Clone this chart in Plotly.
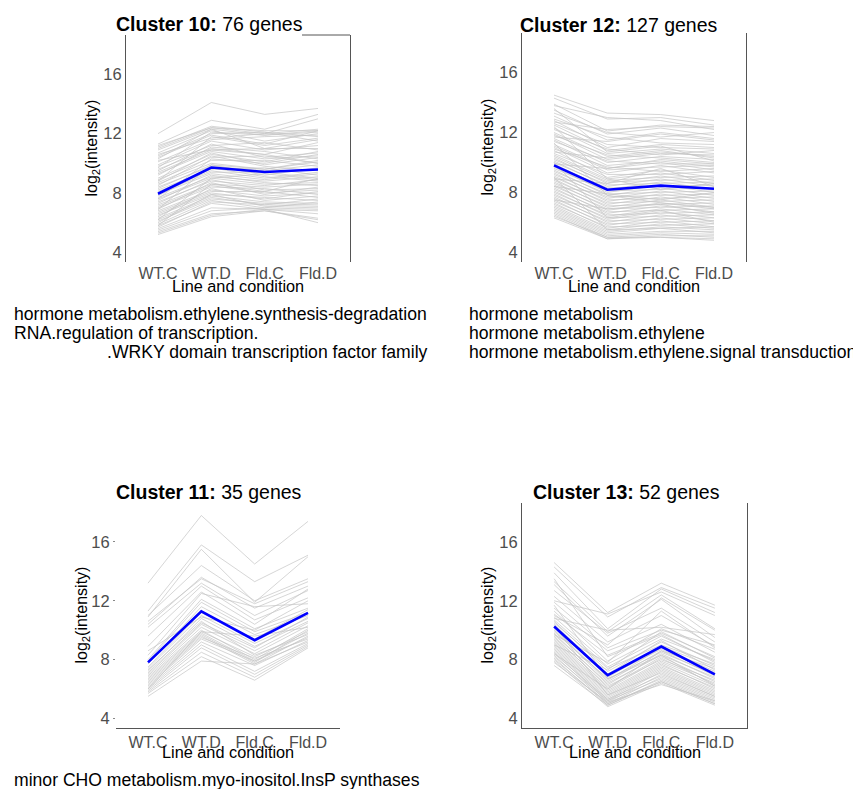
import plotly.graph_objects as go

# ---------------- data ----------------
conditions = ["WT.C", "WT.D", "Fld.C", "Fld.D"]
y_tick_values = [4, 8, 12, 16]

cluster10_title = "<b>Cluster 10:</b> 76 genes"
cluster10_genes = [
    [12.0, 14.1, 13.3, 13.7], [11.3, 12.9, 12.3, 13.3], [11.2, 12.4, 12.0, 13.0],
    [11.0, 12.4, 12.2, 12.2], [10.9, 12.3, 11.9, 12.1], [10.7, 12.2, 11.5, 12.0],
    [10.5, 12.0, 12.1, 11.8], [10.4, 11.9, 11.3, 12.2], [10.3, 12.3, 11.0, 11.6],
    [10.1, 11.6, 11.8, 11.9], [9.9, 11.5, 10.9, 11.2], [9.8, 11.2, 11.4, 10.9],
    [9.6, 11.0, 10.6, 11.4], [9.5, 11.3, 10.4, 10.7], [9.4, 10.9, 11.0, 11.0],
    [9.3, 10.8, 10.3, 10.5], [9.2, 11.1, 10.8, 10.3], [9.0, 10.6, 10.1, 10.8],
    [8.9, 10.4, 10.5, 10.0], [8.8, 10.7, 9.9, 10.4], [8.7, 10.2, 10.2, 9.8],
    [8.6, 10.0, 9.6, 10.1], [8.5, 10.5, 9.8, 9.5], [8.4, 9.8, 9.5, 9.9],
    [8.3, 9.9, 9.2, 9.7], [8.2, 9.6, 9.7, 9.2], [8.1, 9.5, 9.0, 9.4],
    [8.0, 9.4, 9.4, 9.0], [7.9, 9.3, 8.9, 9.3], [7.8, 9.7, 9.1, 8.8],
    [7.7, 9.1, 8.8, 9.1], [7.6, 9.0, 8.6, 8.7], [7.5, 9.2, 8.7, 8.5],
    [7.4, 8.8, 8.5, 8.9], [7.3, 8.9, 8.2, 8.3], [7.2, 8.6, 8.4, 8.6],
    [7.1, 8.5, 8.0, 8.2], [7.0, 8.4, 8.3, 7.9], [6.9, 8.7, 7.9, 8.4],
    [6.8, 8.2, 7.8, 8.0], [6.7, 8.1, 8.1, 7.7], [6.6, 8.0, 7.6, 8.1],
    [6.5, 7.9, 7.7, 7.5], [6.4, 8.3, 7.5, 7.8], [6.3, 7.8, 7.4, 7.3],
    [6.2, 7.7, 7.2, 7.6], [6.1, 7.6, 7.3, 7.2], [6.0, 7.9, 7.1, 7.0],
    [5.9, 7.5, 7.0, 7.4], [5.8, 7.3, 6.9, 6.8], [5.7, 7.4, 7.2, 7.1],
    [5.6, 7.0, 6.9, 6.6], [5.5, 6.8, 7.0, 6.9], [5.4, 6.6, 6.8, 6.3],
    [5.3, 6.5, 6.9, 6.0], [5.2, 6.4, 6.8, 6.2], [10.6, 11.7, 12.0, 12.3],
    [9.7, 12.1, 11.9, 12.2], [8.8, 11.8, 11.2, 11.7], [7.6, 10.3, 10.0, 10.6],
    [6.9, 9.9, 9.6, 10.2], [6.2, 9.0, 9.3, 8.9], [5.8, 8.6, 8.1, 9.0],
    [11.1, 12.5, 12.1, 11.5], [10.2, 10.9, 10.6, 10.0],
]
cluster10_mean = [7.95, 9.72, 9.42, 9.58]

cluster12_title = "<b>Cluster 12:</b> 127 genes"
cluster12_genes = [
    [14.5, 13.3, 13.2, 12.8], [14.3, 12.9, 13.0, 12.5], [13.9, 12.1, 12.5, 12.4],
    [13.8, 13.0, 12.8, 12.2], [13.5, 11.9, 12.3, 11.8], [13.3, 12.0, 11.7, 12.0],
    [13.1, 11.5, 12.0, 11.6], [12.9, 11.7, 11.3, 11.2], [12.8, 11.0, 11.6, 11.4],
    [12.6, 11.2, 11.0, 10.9], [12.5, 10.8, 11.2, 11.0], [12.3, 10.6, 10.9, 10.6],
    [12.2, 10.9, 10.5, 10.8], [12.0, 10.4, 10.8, 10.3], [11.9, 10.2, 10.6, 10.5],
    [11.8, 10.5, 10.3, 10.0], [11.6, 10.0, 10.4, 10.2], [11.5, 9.8, 10.1, 9.7],
    [11.4, 10.1, 9.9, 9.9], [11.2, 9.6, 10.0, 9.5], [11.1, 9.5, 9.7, 9.8],
    [11.0, 9.3, 9.8, 9.3], [10.9, 9.7, 9.4, 9.6], [10.8, 9.0, 9.5, 9.0],
    [10.6, 9.2, 9.2, 9.4], [10.5, 8.9, 9.3, 8.8], [10.4, 8.8, 9.0, 9.1],
    [10.3, 8.6, 9.1, 8.6], [10.2, 8.7, 8.8, 8.9], [10.1, 8.4, 8.9, 8.4],
    [10.0, 8.5, 8.6, 8.7], [9.9, 8.2, 8.7, 8.2], [9.8, 8.3, 8.4, 8.5],
    [9.7, 8.0, 8.5, 8.0], [9.6, 8.1, 8.2, 8.3], [9.5, 7.8, 8.3, 7.8],
    [9.4, 7.9, 8.0, 8.1], [9.3, 7.6, 8.1, 7.6], [9.2, 7.7, 7.8, 7.9],
    [9.1, 7.4, 7.9, 7.4], [9.0, 7.5, 7.6, 7.7], [8.9, 7.2, 7.7, 7.2],
    [8.8, 7.3, 7.4, 7.5], [8.7, 7.0, 7.5, 7.0], [8.6, 7.1, 7.2, 7.3],
    [8.5, 6.8, 7.3, 6.9], [8.4, 6.9, 7.0, 7.1], [8.3, 6.6, 7.1, 6.7],
    [8.2, 6.7, 6.8, 6.9], [8.1, 6.4, 6.9, 6.5], [8.0, 6.5, 6.6, 6.7],
    [7.9, 6.2, 6.7, 6.3], [7.8, 6.3, 6.4, 6.5], [7.7, 6.0, 6.5, 6.1],
    [7.6, 6.1, 6.2, 6.3], [7.5, 5.8, 6.3, 5.9], [7.4, 5.9, 6.0, 6.1],
    [7.3, 5.6, 6.1, 5.7], [7.2, 5.7, 5.8, 5.9], [7.1, 5.5, 5.9, 5.6],
    [7.0, 5.4, 5.7, 5.5], [6.9, 5.3, 5.6, 5.3], [6.8, 5.2, 5.4, 5.4],
    [6.7, 5.1, 5.3, 5.2], [6.6, 5.0, 5.2, 5.0], [6.5, 4.9, 5.1, 5.1],
    [6.4, 5.0, 5.0, 4.9], [6.3, 4.9, 5.0, 4.8], [12.7, 12.2, 12.4, 12.3],
    [11.7, 11.4, 11.9, 11.5], [10.7, 10.3, 10.7, 10.4], [9.9, 9.6, 10.2, 9.9],
    [8.9, 8.6, 9.6, 8.4], [11.3, 7.8, 7.3, 7.0], [10.0, 6.3, 6.8, 6.0],
    [9.0, 5.5, 5.6, 5.7], [12.4, 8.9, 8.2, 8.6], [8.4, 7.9, 7.5, 8.0],
    [7.5, 6.9, 7.2, 6.6], [13.6, 10.7, 11.1, 10.1],
]
cluster12_mean = [9.81, 8.18, 8.45, 8.24]

cluster11_title = "<b>Cluster 11:</b> 35 genes"
cluster11_genes = [
    [13.2, 17.8, 14.5, 17.4], [11.3, 15.8, 13.3, 15.1], [10.9, 15.5, 11.9, 15.0],
    [11.0, 14.4, 12.0, 13.5], [10.6, 13.5, 11.8, 13.3], [10.4, 13.6, 11.5, 13.0],
    [10.2, 13.2, 11.0, 12.7], [9.6, 13.0, 10.7, 12.2], [8.9, 12.6, 10.4, 12.8],
    [8.3, 12.5, 11.6, 11.8], [8.0, 12.1, 10.1, 11.5], [7.9, 11.9, 9.9, 11.2],
    [7.7, 11.6, 9.7, 11.0], [7.5, 11.2, 9.4, 11.4], [7.4, 11.0, 9.1, 10.8],
    [7.2, 10.8, 8.9, 10.6], [7.1, 10.5, 8.8, 10.9], [7.0, 10.4, 8.6, 10.5],
    [6.9, 10.2, 8.4, 10.3], [6.8, 10.0, 8.0, 10.1], [6.7, 9.9, 8.2, 9.9],
    [6.6, 9.8, 7.9, 9.8], [6.5, 9.7, 7.8, 10.0], [6.4, 9.6, 7.7, 9.6],
    [6.3, 9.5, 8.1, 9.4], [6.2, 9.4, 7.9, 9.5], [6.1, 9.2, 7.6, 9.3],
    [6.0, 9.0, 7.2, 9.1], [5.9, 8.8, 7.0, 9.0], [5.8, 8.5, 6.8, 8.9],
    [5.7, 8.2, 6.6, 8.8], [5.5, 7.9, 7.7, 9.2], [8.6, 10.9, 10.0, 12.0],
    [6.0, 9.9, 9.6, 10.2], [7.3, 10.6, 8.3, 9.7],
]
cluster11_mean = [7.81, 11.29, 9.32, 11.18]

cluster13_title = "<b>Cluster 13:</b> 52 genes"
cluster13_genes = [
    [14.6, 11.2, 13.2, 11.7], [14.3, 10.9, 12.9, 11.5], [13.9, 10.1, 12.8, 11.2],
    [13.3, 9.9, 12.4, 10.1], [13.1, 9.6, 12.1, 9.5], [12.7, 9.8, 11.5, 9.2],
    [12.3, 9.2, 11.0, 8.9], [11.9, 8.8, 10.4, 8.5], [11.5, 8.6, 10.0, 9.0],
    [11.3, 7.9, 10.1, 8.7], [11.1, 8.3, 9.8, 8.2], [10.9, 7.7, 9.6, 7.9],
    [10.7, 7.5, 9.4, 8.0], [10.6, 7.2, 9.2, 7.6], [10.5, 7.4, 9.0, 7.7],
    [10.4, 7.0, 9.3, 7.3], [10.3, 6.8, 8.9, 7.5], [10.2, 6.9, 8.7, 7.1],
    [10.1, 6.6, 8.8, 7.2], [10.0, 6.5, 8.6, 6.9], [9.9, 6.7, 8.5, 7.0],
    [9.8, 6.3, 8.4, 6.7], [9.7, 6.4, 8.3, 6.8], [9.6, 6.1, 8.2, 6.5],
    [9.5, 6.2, 8.0, 6.6], [9.4, 6.0, 8.1, 6.3], [9.3, 5.9, 7.9, 6.4],
    [9.2, 5.8, 7.8, 6.2], [9.1, 5.7, 7.7, 6.0], [9.0, 5.6, 7.6, 6.1],
    [8.9, 5.5, 7.5, 5.9], [8.8, 5.4, 7.4, 5.8], [8.7, 5.3, 7.3, 5.7],
    [8.6, 5.2, 7.2, 5.6], [8.5, 5.1, 7.0, 5.5], [8.4, 5.3, 6.9, 5.4],
    [8.3, 5.0, 6.8, 5.3], [8.2, 5.2, 6.7, 5.2], [8.1, 4.9, 6.6, 5.1],
    [8.0, 5.0, 6.5, 5.0], [7.9, 4.8, 6.4, 4.9], [7.8, 5.1, 6.3, 5.2],
    [7.6, 4.9, 6.5, 5.0], [12.0, 11.1, 12.6, 11.0], [11.0, 9.0, 12.2, 10.0],
    [10.8, 10.0, 10.2, 9.7], [9.7, 7.8, 11.3, 8.8], [13.5, 8.2, 9.7, 7.8],
    [9.0, 7.3, 9.9, 8.1], [8.4, 6.0, 8.6, 7.4], [10.3, 5.6, 7.1, 5.5],
    [11.7, 6.7, 8.3, 6.2],
]
cluster13_mean = [10.25, 6.94, 8.89, 6.99]

left_terms = [
    "hormone metabolism.ethylene.synthesis-degradation",
    "RNA.regulation of transcription.",
    ".WRKY domain transcription factor family",
]
right_terms = [
    "hormone metabolism",
    "hormone metabolism.ethylene",
    "hormone metabolism.ethylene.signal transduction",
]
bottom_terms = ["minor CHO metabolism.myo-inositol.InsP synthases"]

y_axis_title = "log<sub>2</sub>(intensity)"
x_axis_title = "Line and condition"

# ---------------- layout helpers ----------------
# The page body has an 8px default margin, so the figure is drawn 8px in
# from the window's top-left; target window pixels are converted accordingly.
OFF = 8
W, H = 861 - OFF, 789 - OFF
FONT = "Liberation Sans, Arial, Helvetica, sans-serif"


def fx(p):
    return (p - OFF) / W


def fy(p):
    return 1 - (p - OFF) / H


panels = [
    dict(genes=cluster10_genes, mean=cluster10_mean, title=cluster10_title, ax="",
         box=(126, 350, 35, 262), title_xy=(209, 24), ytitle_x=92,
         ylines=True, xline=False, ticks=False),
    dict(genes=cluster12_genes, mean=cluster12_mean, title=cluster12_title, ax="2",
         box=(522, 746, 33, 262), title_xy=(619, 25), ytitle_x=488,
         ylines=True, xline=False, ticks=False),
    dict(genes=cluster11_genes, mean=cluster11_mean, title=cluster11_title, ax="3",
         box=(116, 340, 503, 728), title_xy=(209, 492), ytitle_x=82,
         ylines=False, xline=True, ticks=True),
    dict(genes=cluster13_genes, mean=cluster13_mean, title=cluster13_title, ax="4",
         box=(522, 747, 503, 728), title_xy=(626, 492), ytitle_x=488,
         ylines=True, xline=True, ticks=False),
]

fig = go.Figure()
annotations = []
axis_line_color = "#555555"
tick_font = dict(family=FONT, size=16, color="#4d4d4d")

for p in panels:
    xs, ys = [], []
    for g in p["genes"]:
        xs += list(range(len(conditions))) + [None]
        ys += list(g) + [None]
    xa = "x" + p["ax"]
    ya = "y" + p["ax"]
    fig.add_trace(go.Scatter(x=xs, y=ys, mode="lines", xaxis=xa, yaxis=ya,
                             line=dict(color="#c4c4c4", width=0.7),
                             hoverinfo="skip", showlegend=False))
    fig.add_trace(go.Scatter(x=list(range(len(conditions))), y=p["mean"], mode="lines",
                             xaxis=xa, yaxis=ya,
                             line=dict(color="#0000ff", width=2.6),
                             hoverinfo="skip", showlegend=False))
    x0, x1, t, b = p["box"]
    xk = "xaxis" + p["ax"]
    yk = "yaxis" + p["ax"]
    fig.layout[xk] = dict(
        domain=[fx(x0), fx(x1)], range=[-0.6, 3.6], anchor=ya,
        tickvals=list(range(len(conditions))), ticktext=conditions,
        showgrid=False, zeroline=False, ticks="", tickfont=tick_font,
        showline=p["xline"], linecolor=axis_line_color, linewidth=1,
    )
    fig.layout[yk] = dict(
        domain=[fy(b), fy(t)], range=[3.35, 18.65], anchor=xa,
        tickvals=y_tick_values, showgrid=False, zeroline=False,
        ticks="outside" if p["ticks"] else "", ticklen=2 if p["ticks"] else 0,
        tickcolor="#888888", tickwidth=1,
        tickfont=dict(family=FONT, size=16.5, color="#4d4d4d"),
        showline=p["ylines"], mirror=p["ylines"], linecolor=axis_line_color, linewidth=1,
    )
    tx, ty = p["title_xy"]
    annotations.append(dict(x=fx(tx), y=fy(ty), xref="paper", yref="paper",
                            text=p["title"], showarrow=False, xanchor="center", yanchor="middle",
                            font=dict(family=FONT, size=19.5, color="#000000")))
    annotations.append(dict(x=fx(p["ytitle_x"]), y=fy((t + b) / 2), xref="paper", yref="paper",
                            text=y_axis_title, showarrow=False, textangle=-90,
                            xanchor="center", yanchor="middle",
                            font=dict(family=FONT, size=16, color="#000000")))
    annotations.append(dict(x=fx((x0 + x1) / 2), y=fy(b + 24), xref="paper", yref="paper",
                            text=x_axis_title, showarrow=False, xanchor="center", yanchor="middle",
                            font=dict(family=FONT, size=16.3, color="#000000")))

# partial top border of cluster 10 panel (beside its title)
fig.add_shape(type="line", xref="paper", yref="paper",
              x0=fx(302), x1=fx(350), y0=fy(35), y1=fy(35),
              line=dict(color=axis_line_color, width=1))

term_font = dict(family=FONT, size=17.6, color="#000000")
line_y = [314, 333, 352]
for i, txt in enumerate(left_terms):
    if txt.startswith("."):
        annotations.append(dict(x=fx(430), y=fy(line_y[i]), xref="paper", yref="paper",
                                text=txt, showarrow=False, xanchor="right", yanchor="middle",
                                font=term_font))
    else:
        annotations.append(dict(x=fx(12), y=fy(line_y[i]), xref="paper", yref="paper",
                                text=txt, showarrow=False, xanchor="left", yanchor="middle",
                                font=term_font))
for i, txt in enumerate(right_terms):
    annotations.append(dict(x=fx(467), y=fy(line_y[i]), xref="paper", yref="paper",
                            text=txt, showarrow=False, xanchor="left", yanchor="middle",
                            font=term_font))
for i, txt in enumerate(bottom_terms):
    annotations.append(dict(x=fx(12), y=fy(780), xref="paper", yref="paper",
                            text=txt, showarrow=False, xanchor="left", yanchor="middle",
                            font=term_font))

fig.update_layout(
    width=W, height=H, margin=dict(l=0, r=0, t=0, b=0),
    paper_bgcolor="white", plot_bgcolor="white",
    annotations=annotations, showlegend=False,
    font=dict(family=FONT),
)

fig.write_html("out.html", config={"displayModeBar": False})
